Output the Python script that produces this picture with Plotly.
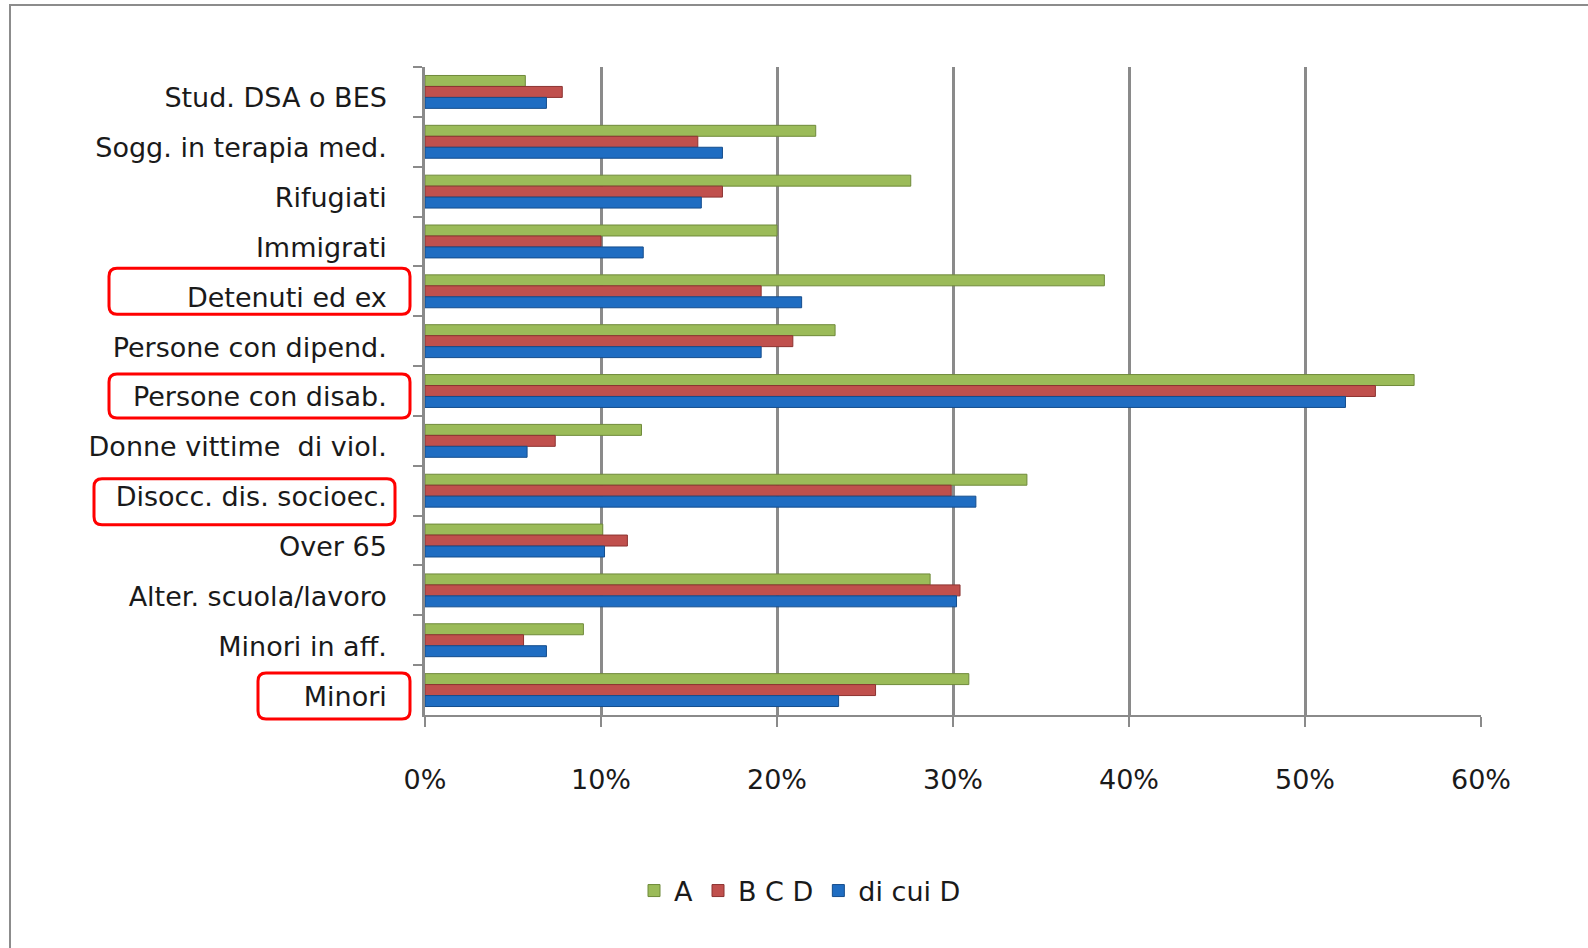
import plotly.graph_objects as go

# Target groups, top to bottom
categories = [
    "Stud. DSA o BES", "Sogg. in terapia med.", "Rifugiati", "Immigrati",
    "Detenuti ed ex", "Persone con dipend.", "Persone con disab.",
    "Donne vittime  di viol.", "Disocc. dis. socioec.", "Over 65",
    "Alter. scuola/lavoro", "Minori in aff.", "Minori",
]

# Shares (fractions) per series
a_vals = [0.057, 0.222, 0.276, 0.200, 0.386, 0.233, 0.562, 0.123, 0.342, 0.101, 0.287, 0.090, 0.309]
bcd_vals = [0.078, 0.155, 0.169, 0.100, 0.191, 0.209, 0.540, 0.074, 0.299, 0.115, 0.304, 0.056, 0.256]
d_vals = [0.069, 0.169, 0.157, 0.124, 0.214, 0.191, 0.523, 0.058, 0.313, 0.102, 0.302, 0.069, 0.235]

x_ticks = [0, 0.1, 0.2, 0.3, 0.4, 0.5, 0.6]
x_ticklabels = ["0%", "10%", "20%", "30%", "40%", "50%", "60%"]

# Groups whose labels are framed in red
highlighted = ["Detenuti ed ex", "Persone con disab.", "Disocc. dis. socioec.", "Minori"]

W, H = 1588, 948
ML, MR, MT, MB = 425, 107, 67, 233
PW, PH = W - ML - MR, H - MT - MB

FONT = "DejaVu Sans"
TXT = "#1a1a1a"
GRID = "#8a8a8a"

series = [
    ("A", a_vals, "#9bbb59", "#6f8a3a"),
    ("B C D", bcd_vals, "#c0504d", "#8c3331"),
    ("di cui D", d_vals, "#1f6dc2", "#154d8c"),
]

fig = go.Figure()
for rank, (name, vals, col, edge) in enumerate(series):
    fig.add_trace(go.Bar(
        y=categories, x=vals, name=name, orientation="h",
        marker=dict(color=col, line=dict(color=edge, width=1)),
        legendrank=rank + 1,
    ))


def px_to_paper_x(px):
    return (px - ML) / PW


def px_to_paper_y(py):
    return (MT + PH - py) / PH


def category_paper_y(cat):
    # reversed category axis: first category at the top
    n = len(categories)
    return 1 - (categories.index(cat) + 0.5) / n


def rounded_path(x0, x1, yt, yb, r):
    return (f"M{x0 + r},{yt} L{x1 - r},{yt} Q{x1},{yt} {x1},{yt - r} "
            f"L{x1},{yb + r} Q{x1},{yb} {x1 - r},{yb} L{x0 + r},{yb} "
            f"Q{x0},{yb} {x0},{yb + r} L{x0},{yt - r} Q{x0},{yt} {x0 + r},{yt} Z")


# frame extents (pixel offsets from the plot's left edge / category centre, y up)
frame_geom = {
    "Detenuti ed ex": (-316, -15, 23, -23),
    "Persone con disab.": (-316, -15, 17, -27),
    "Disocc. dis. socioec.": (-331, -30, 12, -34),
    "Minori": (-167, -15, 17, -29),
}

shapes = []
for cat in highlighted:
    x0, x1, yt, yb = frame_geom[cat]
    shapes.append(dict(
        type="path", xref="paper", yref="paper",
        xsizemode="pixel", ysizemode="pixel",
        xanchor=0, yanchor=category_paper_y(cat),
        path=rounded_path(x0, x1, yt, yb, 8),
        line=dict(color="#ff0000", width=3),
        fillcolor="rgba(0,0,0,0)",
    ))

# outer chart border
shapes.append(dict(
    type="rect", xref="paper", yref="paper", layer="below",
    x0=px_to_paper_x(10), x1=px_to_paper_x(1620),
    y0=px_to_paper_y(990), y1=px_to_paper_y(5),
    line=dict(color="#8c8c8c", width=2), fillcolor="rgba(0,0,0,0)",
))

fig.update_layout(
    width=W, height=H,
    margin=dict(l=ML, r=MR, t=MT, b=MB),
    paper_bgcolor="white", plot_bgcolor="white",
    barmode="group", bargap=0.34, bargroupgap=0,
    font=dict(family=FONT, size=27, color=TXT),
    showlegend=True,
    legend=dict(
        orientation="h", x=px_to_paper_x(800), xanchor="center",
        y=px_to_paper_y(891), yanchor="middle",
        font=dict(family=FONT, size=27, color=TXT),
        itemwidth=30, bgcolor="rgba(0,0,0,0)",
    ),
    shapes=shapes,
)

fig.update_xaxes(
    range=[0, 0.6], tickvals=x_ticks, ticktext=x_ticklabels,
    showgrid=True, gridcolor=GRID, gridwidth=2.5,
    zeroline=False, showline=True, linecolor=GRID, linewidth=2,
    ticks="outside", ticklen=10, tickwidth=2, tickcolor=GRID,
    ticklabelstandoff=30,
    tickfont=dict(family=FONT, size=27, color=TXT),
)
fig.update_yaxes(
    autorange="reversed", type="category",
    showgrid=False, showline=True, linecolor=GRID, linewidth=2.5,
    ticks="outside", tickson="boundaries", ticklen=9, tickwidth=2, tickcolor=GRID,
    ticklabelstandoff=30, ticklabelshift=-6,
    tickfont=dict(family=FONT, size=27, color=TXT),
)

fig.write_html("out.html")
